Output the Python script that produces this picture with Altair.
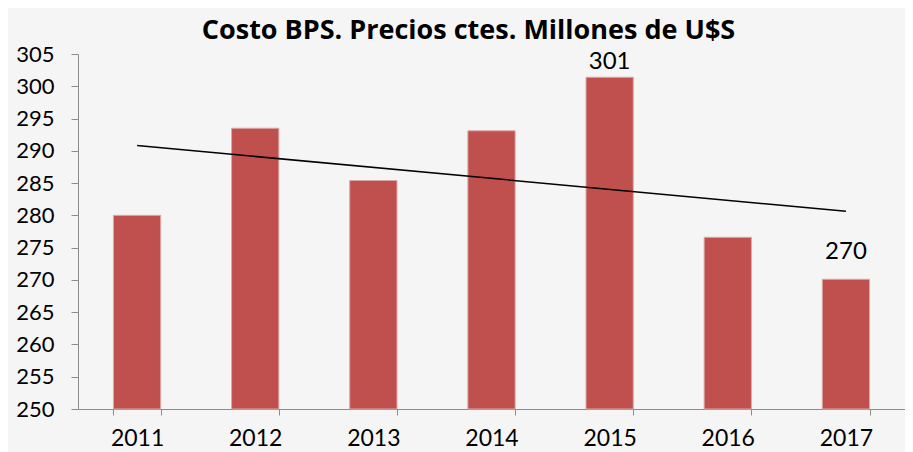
import altair as alt
import pandas as pd

years = ["2011", "2012", "2013", "2014", "2015", "2016", "2017"]
costs = [280.0, 293.5, 285.4, 293.1, 301.4, 276.6, 270.1]
label_years = ["2015", "2017"]
label_texts = ["301", "270"]
y_ticks = list(range(250, 306, 5))
title_text = "Costo BPS. Precios ctes. Millones de U$S"

df = pd.DataFrame({
    "year": years,
    "cost": costs,
    "year_num": [int(y) for y in years],
})
df["label"] = [label_texts[label_years.index(y)] if y in label_years else "" for y in years]

AX = "#8c8c8c"
FONT = "Lato"

x_enc = alt.X(
    "year:N", sort=years,
    scale=alt.Scale(paddingInner=0.6, paddingOuter=0.3),
    axis=alt.Axis(title=None, labelAngle=0, tickBand="extent", tickSize=6,
                  labelFontSize=23, labelPadding=12, labelFont=FONT),
)
y_enc = alt.Y(
    "cost:Q",
    scale=alt.Scale(domain=[250, 305], nice=False, zero=False),
    axis=alt.Axis(title=None, values=y_ticks, tickSize=7, labelFontSize=22,
                  labelPadding=17, labelFont=FONT, grid=False, labelOverlap=False),
)

base = alt.Chart(df)

bars = base.mark_bar(color="#c0504d", stroke="#dca8a7", strokeWidth=1).encode(
    x=x_enc, y=y_enc, y2=alt.datum(250)
)

trend = (
    base.transform_regression("year_num", "cost", method="linear")
    .transform_calculate(year="toString(datum.year_num)")
    .mark_line(color="black", strokeWidth=1.5)
    .encode(x=x_enc, y=y_enc)
)

lbl_a = base.transform_filter(alt.datum.year == label_years[0]).mark_text(
    baseline="alphabetic", dy=-8, font=FONT, fontSize=24, color="black"
).encode(x=x_enc, y=y_enc, text="label:N")

lbl_b = base.transform_filter(alt.datum.year == label_years[1]).mark_text(
    baseline="alphabetic", dy=-20, font=FONT, fontSize=24, color="black"
).encode(x=x_enc, y=y_enc, text="label:N")

chart = (
    alt.layer(bars, trend, lbl_a, lbl_b)
    .properties(
        width=827, height=355,
        title=alt.TitleParams(title_text, anchor="middle", dx=-23, offset=-2,
                              font="Open Sans", fontSize=27, fontWeight="bold", color="black"),
        autosize=alt.AutoSizeParams(type="none"),
        padding={"left": 70, "top": 46, "right": 0, "bottom": 43},
        background="#f5f5f5",
    )
    .configure_view(stroke=None)
    .configure_axis(domainColor=AX, tickColor=AX, labelColor="black", domainWidth=1, tickWidth=1)
)

chart.save("out.html", embed_options={"renderer": "svg", "actions": False})
